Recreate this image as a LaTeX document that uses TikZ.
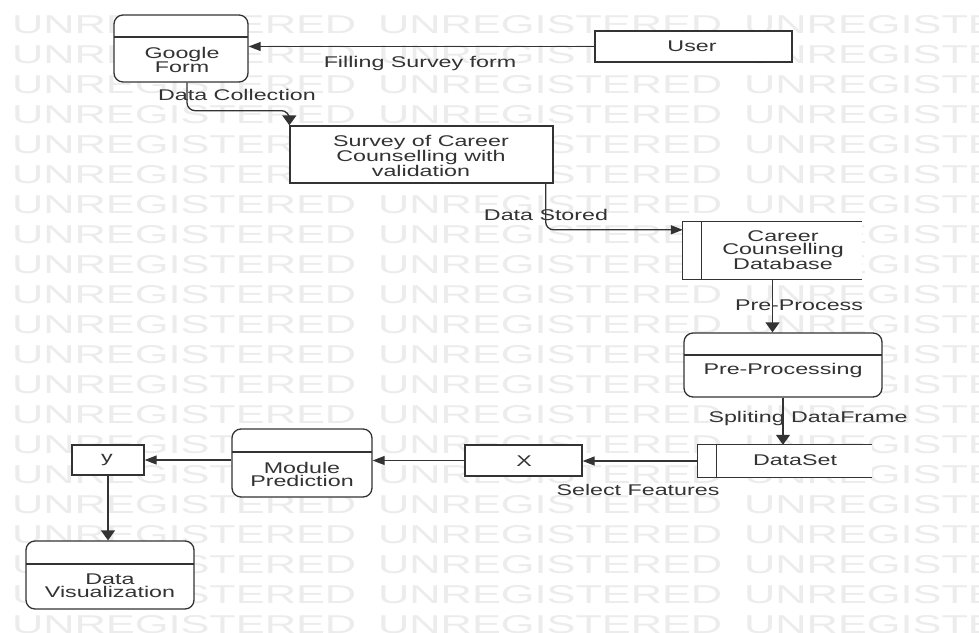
\documentclass[tikz,border=0pt]{standalone}
\usepackage{fontspec}
\setmainfont{Liberation Sans}[FakeStretch=1.5]
\newfontfamily\wmfont{Liberation Sans}
\usetikzlibrary{arrows.meta}
\definecolor{linec}{HTML}{333333}
\definecolor{wmgray}{HTML}{ECECEC}
\tikzset{
  wm/.style={inner sep=0pt, text=wmgray, anchor=west},
  txt/.style={font=\fontsize{15.5}{13}\selectfont, text=linec, align=center, inner sep=0pt},
  entbox/.style={draw=linec, line width=1.3pt, fill=white, inner sep=0pt},
  procbox/.style={entbox, rounded corners=9pt,
    path picture={\draw[line width=1.3pt, draw=linec]
      ([yshift=-#1]path picture bounding box.north west) --
      ([yshift=-#1]path picture bounding box.north east);}},
  storebox/.style={fill=white, inner sep=0pt},
  flow/.style={draw=linec, line width=1.3pt},
  harr/.style={flow, -{Triangle[length=12pt,width=9pt]}},
  varr/.style={flow, -{Triangle[length=10pt,width=14pt]}}
}
\begin{document}
\begin{tikzpicture}[x=1pt, y=-1pt]
  \fill[white] (0,0) rectangle (979,632);
  \useasboundingbox (0,0) rectangle (979,632);

  \begin{scope}
    \clip (0,0) rectangle (979,632);
    \foreach \r in {0,...,20}
      \foreach \c in {0,1,2}
        \node[wm] (wm\r-\c) at (12+366*\c, 25+30*\r)
          {\resizebox{344pt}{18pt}{\wmfont UNREGISTERED}};
  \end{scope}

  \node[procbox=22pt, minimum width=134pt, minimum height=67pt] (gform) at (181,48.5) {};
  \node[txt] (gformtxt) at (182,60) {Google\\Form};

  \node[entbox, minimum width=197pt, minimum height=31pt] (user) at (693.5,46.5) {};
  \node[txt] (usertxt) at (692,46) {User};

  \node[entbox, minimum width=263pt, minimum height=57pt] (survey) at (421.5,154.5) {};
  \node[txt] (surveytxt) at (421,156) {Survey of Career\\Counselling with\\validation};

  \node[storebox, minimum width=179pt, minimum height=57pt] (db) at (772.5,250.5) {};
  \draw[flow] (db.north east) -- (db.north west) -- (db.south west) -- (db.south east);
  \draw[flow] ([xshift=19pt]db.north west) -- ([xshift=19pt]db.south west);
  \node[txt] (dbtxt) at (783,250) {Career\\Counselling\\Database};

  \node[procbox=22pt, minimum width=198pt, minimum height=64pt] (pre) at (783,365) {};
  \node[txt] (pretxt) at (783,370) {Pre-Processing};

  \node[storebox, minimum width=174pt, minimum height=32pt] (dataset) at (785,461) {};
  \draw[flow] (dataset.north east) -- (dataset.north west) -- (dataset.south west) -- (dataset.south east);
  \draw[flow] ([xshift=19pt]dataset.north west) -- ([xshift=19pt]dataset.south west);
  \node[txt] (datasettxt) at (795,460) {DataSet};

  \node[entbox, minimum width=117pt, minimum height=31pt] (xbox) at (523.5,460.5) {};
  \node[txt] (xtxt) at (524,461) {X};

  \node[procbox=23pt, minimum width=140pt, minimum height=68pt] (module) at (302,463) {};
  \node[txt] (moduletxt) at (302,474) {Module\\Prediction};

  \node[entbox, minimum width=72pt, minimum height=30pt] (ybox) at (108,460) {};
  \node[txt] (ytxt) at (107,460) {y};

  \node[procbox=23pt, minimum width=168pt, minimum height=68pt] (dvis) at (110,575) {};
  \node[txt] (dvistxt) at (110,586) {Data\\Visualization};

  \draw[harr] (user.west) -- (user.west -| gform.east);
  \node[txt] (lblfill) at (420,63) {Filling Survey form};

  \draw[varr, rounded corners=8pt] ([xshift=6pt]gform.south) -- ++(0,28) -| (survey.north west);
  \node[txt] (lblcollect) at (237,95) {Data Collection};

  \draw[harr, rounded corners=8pt] ([xshift=-8pt]survey.south east) |- ([yshift=-8pt]db.north west);
  \node[txt] (lblstored) at (546,215) {Data Stored};

  \draw[varr] (db.south) -- (db.south |- pre.north);
  \node[txt] (lblpre) at (799,305) {Pre-Process};

  \draw[varr] (pre.south) -- (pre.south |- dataset.north);
  \node[txt] (lblsplit) at (808,418) {Spliting DataFrame};

  \draw[harr] (dataset.west) -- (dataset.west -| xbox.east);
  \node[txt] (lblselect) at (638,490) {Select Features};

  \draw[harr] (xbox.west) -- (xbox.west -| module.east);
  \draw[harr] (module.west |- ybox.east) -- (ybox.east);
  \draw[varr] (ybox.south) -- (ybox.south |- dvis.north);
\end{tikzpicture}
\end{document}
